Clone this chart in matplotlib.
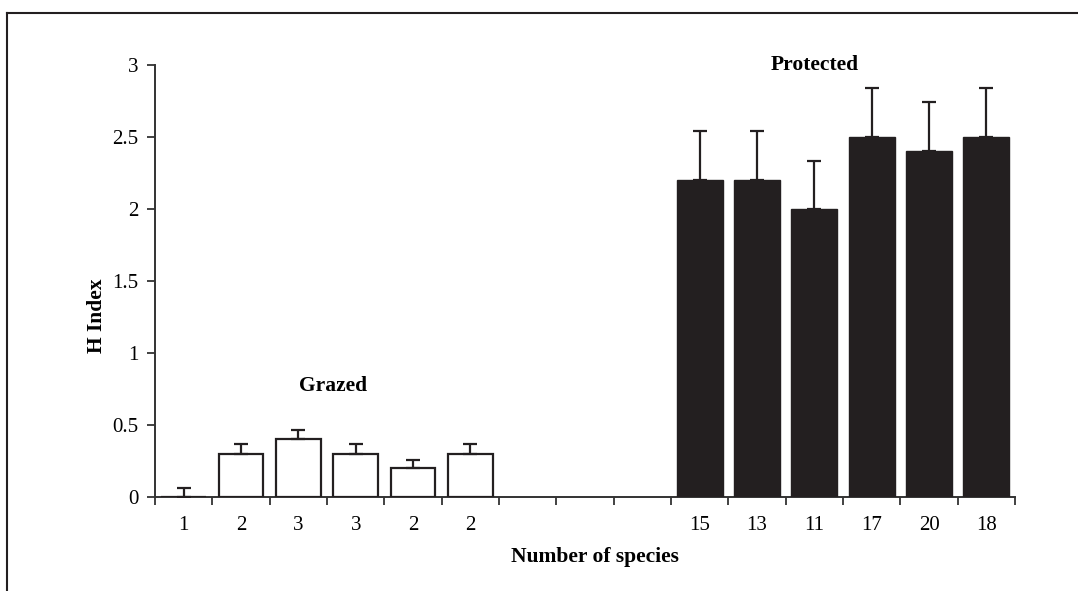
import numpy as np
import matplotlib
matplotlib.use('Agg')
import matplotlib.pyplot as plt
from matplotlib.lines import Line2D

plt.rcParams['font.family'] = ['Liberation Serif', 'DejaVu Serif']

# data
grazed_species = ['1', '2', '3', '3', '2', '2']
grazed_h = [0.0, 0.3, 0.4, 0.3, 0.2, 0.3]
grazed_err = [0.06, 0.07, 0.065, 0.07, 0.06, 0.07]

protected_species = ['15', '13', '11', '17', '20', '18']
protected_h = [2.2, 2.2, 2.0, 2.5, 2.4, 2.5]
protected_err = [0.34, 0.34, 0.33, 0.34, 0.34, 0.34]

n_gap = 3

EDGE = '#231f20'
AXC = '#333333'

fig = plt.figure(figsize=(10.78, 5.91), dpi=100)
ax = fig.add_axes([0.1438, 0.159, 0.7978, 0.731])

x_g = np.arange(len(grazed_h))
x_p = np.arange(len(protected_h)) + len(grazed_h) + n_gap
n_slots = len(grazed_h) + n_gap + len(protected_h)

ax.bar(x_g, grazed_h, width=0.78, color='white', edgecolor=EDGE, linewidth=1.6,
       yerr=[np.zeros(len(grazed_err)), grazed_err],
       error_kw=dict(ecolor=EDGE, elinewidth=1.6, capsize=5, capthick=1.6), zorder=3)
ax.bar(x_p, protected_h, width=0.8, color=EDGE, edgecolor=EDGE, linewidth=1.0,
       yerr=[np.zeros(len(protected_err)), protected_err],
       error_kw=dict(ecolor=EDGE, elinewidth=1.6, capsize=5, capthick=1.6), zorder=3)

ax.set_xlim(-0.5, n_slots - 0.5)
ax.set_ylim(0, 3)
ax.set_yticks(np.arange(0, 3.01, 0.5))
ax.set_yticklabels(['0', '0.5', '1', '1.5', '2', '2.5', '3'])

ax.set_xticks(np.concatenate([x_g, x_p]))
ax.set_xticklabels(grazed_species + protected_species)
ax.set_xticks(np.arange(n_slots + 1) - 0.5, minor=True)
ax.tick_params(axis='x', which='major', length=0, pad=14, labelsize=15)
ax.tick_params(axis='x', which='minor', length=6, width=1.3, color=AXC, direction='out')
ax.tick_params(axis='y', length=6, width=1.3, color=AXC, direction='out', pad=6,
               labelsize=15)

for s in ['top', 'right']:
    ax.spines[s].set_visible(False)
for s in ['left', 'bottom']:
    ax.spines[s].set_color(AXC)
    ax.spines[s].set_linewidth(1.4)

ax.set_ylabel('H Index', fontsize=15.5, fontweight='bold')
ax.yaxis.set_label_coords(-0.056, 0.42)
ax.set_xlabel('Number of species', fontsize=15.5, fontweight='bold')
ax.xaxis.set_label_coords(0.512, -0.115)

ax.text(np.mean(x_g) + 0.1, 0.77, 'Grazed', ha='center', va='center',
        fontsize=15.5, fontweight='bold')
ax.text(np.mean(x_p) - 0.5, 3.0, 'Protected', ha='center', va='center',
        fontsize=15.5, fontweight='bold')

# outer frame (top and left edges only)
fig.add_artist(Line2D([7 / 1078, 1.0], [1 - 13 / 591, 1 - 13 / 591],
                      color=EDGE, linewidth=1.5, transform=fig.transFigure))
fig.add_artist(Line2D([7 / 1078, 7 / 1078], [0.0, 1 - 13 / 591],
                      color=EDGE, linewidth=1.5, transform=fig.transFigure))

fig.savefig('out.png', dpi=100)
